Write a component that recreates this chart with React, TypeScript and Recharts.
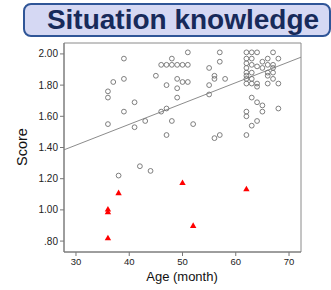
import React from 'react';
import { ScatterChart, Scatter, XAxis, YAxis, ReferenceArea, ReferenceLine } from 'recharts';

const typicalAges = [
  36, 36, 36, 37, 38, 39, 39, 39, 41, 41, 42, 43, 44, 45, 46, 46,
  47, 47, 47, 47, 48, 48, 48, 49, 49, 49, 49, 50, 50, 51, 51, 51, 52,
  55, 55, 55, 56, 56, 56, 57, 57, 57, 58,
  62, 62, 62, 62, 62, 62, 62, 62, 62, 62, 62,
  63, 63, 63, 63, 63, 63, 63, 63,
  64, 64, 64, 64, 64, 64,
  65, 65, 65, 65,
  66, 66, 66, 66, 66,
  67, 67, 67, 67, 67,
  68, 68, 68,
];
const typicalScores = [
  1.76, 1.72, 1.55, 1.82, 1.22, 1.97, 1.84, 1.63, 1.69, 1.53, 1.28, 1.57, 1.25, 1.86, 1.93, 1.63,
  1.93, 1.80, 1.65, 1.48, 1.97, 1.93, 1.57, 1.93, 1.84, 1.78, 1.72, 1.93, 1.82, 2.01, 1.93, 1.82, 1.55,
  1.91, 1.80, 1.74, 1.86, 1.84, 1.46, 2.01, 1.95, 1.48, 1.84,
  2.01, 1.97, 1.94, 1.91, 1.88, 1.86, 1.84, 1.81, 1.63, 1.60, 1.48,
  2.01, 1.97, 1.93, 1.88, 1.84, 1.81, 1.72, 1.54,
  2.01, 1.92, 1.81, 1.79, 1.69, 1.57,
  1.95, 1.91, 1.67, 1.63,
  1.97, 1.93, 1.88, 1.86, 1.81,
  2.01, 1.93, 1.91, 1.88, 1.84,
  1.97, 1.81, 1.65,
];

const flaggedAges = [36, 36, 36, 38, 50, 52, 62];
const flaggedScores = [1.005, 0.987, 0.82, 1.11, 1.175, 0.90, 1.135];

const fitAges = [27.75, 72.25];
const fitScores = [1.385, 1.979];

const xTicks = [30, 40, 50, 60, 70];
const yTicks = [0.8, 1.0, 1.2, 1.4, 1.6, 1.8, 2.0];
const xDomain = [27.75, 72.25];
const yDomain = [0.73, 2.07];

const typicalData = typicalAges.map((a, i) => ({ age: a, score: typicalScores[i] }));
const flaggedData = flaggedAges.map((a, i) => ({ age: a, score: flaggedScores[i] }));
const fitSegment = fitAges.map((a, i) => ({ x: a, y: fitScores[i] }));

const FONT = "Arial, 'Liberation Sans', sans-serif";

const HollowCircle = (props: any) => {
  const { cx, cy } = props;
  if (cx == null || cy == null) return null;
  return <circle cx={cx} cy={cy} r={2.4} fill="none" stroke="#707070" strokeWidth={0.9} />;
};

const RedTriangle = (props: any) => {
  const { cx, cy } = props;
  if (cx == null || cy == null) return null;
  const s = 3.2;
  return (
    <polygon
      points={`${cx},${cy - s} ${cx - s},${cy + s * 0.75} ${cx + s},${cy + s * 0.75}`}
      fill="#ff0000"
      stroke="none"
    />
  );
};

const fmtY = (v: number) => v.toFixed(2).replace(/^0/, '');

export default function App() {
  return (
    <div style={{ position: 'absolute', left: 0, top: 0, width: 331, height: 290, background: '#fff', fontFamily: FONT }}>
      <div
        style={{
          position: 'absolute',
          left: 23,
          top: 3,
          width: 304,
          height: 30,
          border: '2px solid #2f5597',
          borderRadius: 8,
          background: '#d5d8f3',
          boxSizing: 'content-box',
        }}
      />
      <div
        style={{
          position: 'absolute',
          left: 23,
          top: 3,
          width: 308,
          height: 34,
          lineHeight: '34px',
          textAlign: 'center',
          fontSize: 28,
          fontWeight: 'bold',
          color: '#172a5a',
          fontFamily: FONT,
          paddingLeft: 12,
          boxSizing: 'border-box',
          whiteSpace: 'nowrap',
        }}
      >
        Situation knowledge
      </div>
      <div style={{ position: 'absolute', left: 0, top: 0 }}>
        <ScatterChart width={331} height={290} margin={{ top: 43, right: 30, bottom: 8, left: 8 }}>
          <XAxis
            type="number"
            dataKey="age"
            domain={xDomain}
            ticks={xTicks}
            allowDataOverflow
            height={30}
            tickSize={4}
            tickLine={{ stroke: '#777' }}
            axisLine={{ stroke: '#777' }}
            tick={{ fontSize: 9.5, fill: '#222', fontFamily: FONT }}
          />
          <YAxis
            type="number"
            dataKey="score"
            domain={yDomain}
            ticks={yTicks}
            allowDataOverflow
            width={56}
            tickSize={4}
            tickLine={{ stroke: '#777' }}
            axisLine={{ stroke: '#777' }}
            tickFormatter={fmtY}
            tick={{ fontSize: 10, fill: '#222', fontFamily: FONT }}
          />
          <ReferenceArea
            x1={xDomain[0]}
            x2={xDomain[1]}
            y1={yDomain[0]}
            y2={yDomain[1]}
            fill="none"
            stroke="#8a8a8a"
            strokeWidth={1}
          />
          <ReferenceLine segment={fitSegment} stroke="#8c8c8c" strokeWidth={1} />
          <Scatter data={typicalData} shape={HollowCircle} isAnimationActive={false} />
          <Scatter data={flaggedData} shape={RedTriangle} isAnimationActive={false} />
        </ScatterChart>
      </div>
      <div
        style={{
          position: 'absolute',
          left: 22,
          top: 147,
          transform: 'translate(-50%, -50%) rotate(-90deg)',
          fontSize: 14.5,
          color: '#111',
          fontFamily: FONT,
          whiteSpace: 'nowrap',
        }}
      >
        Score
      </div>
      <div
        style={{
          position: 'absolute',
          left: 182,
          top: 276,
          transform: 'translate(-50%, -50%)',
          fontSize: 13,
          color: '#111',
          fontFamily: FONT,
          whiteSpace: 'nowrap',
        }}
      >
        Age (month)
      </div>
    </div>
  );
}
